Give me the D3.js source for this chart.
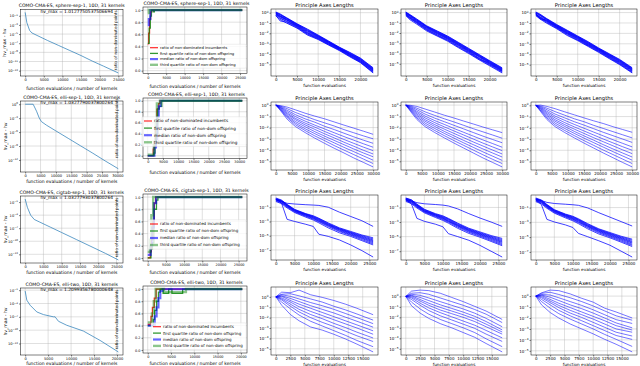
<!DOCTYPE html>
<html>
<head>
<meta charset="utf-8">
<title>COMO-CMA-ES runs</title>
<script src="https://d3js.org/d3.v7.min.js"></script>
<style>
body { margin: 0; background: #fff; }
svg { font-family: "DejaVu Sans", sans-serif; }
</style>
</head>
<body>
<script>
// ---- text ----
var runTitles = ["COMO-CMA-ES, sphere-sep-1, 10D, 31 kernels", "COMO-CMA-ES, elli-sep-1, 10D, 31 kernels",
                 "COMO-CMA-ES, cigtab-sep-1, 10D, 31 kernels", "COMO-CMA-ES, elli-two, 10D, 31 kernels"];
var hvMaxText = ["hv_max = 1.0127750537506694", "hv_max = 1.0327790037800264",
                 "hv_max = 1.0327793037800264", "hv_max = 1.2099356780000648"];
var ratioLabels = ["ratio of non-dominated incumbents", "first quartile ratio of non-dom offspring",
                   "median ratio of non-dom offspring", "third quartile ratio of non-dom offspring"];

// ---- ticks ----
var convTicksY = [[-1,-3,-5,-7,-9,-11,-13], [0,-3,-6,-9,-12], [-1,-4,-7,-10,-13], [-1,-4,-7,-10,-13]];
var evalTicksX = [[0,5000,10000,15000,20000,25000], [0,5000,10000,15000,20000,25000,30000],
                  [0,5000,10000,15000,20000,25000], [0,5000,10000,15000,20000]];
var ratioTicksY = [0, 0.2, 0.4, 0.6, 0.8, 1.0];
var axesTicksX = [[0,5000,10000,15000,20000], [0,5000,10000,15000,20000,25000,30000],
                  [0,5000,10000,15000,20000,25000], [0,2500,5000,7500,10000,12500,15000]];
var axesTicksY = [[0,-1,-2,-3,-4,-5], [0,-1,-2,-3,-4,-5], [-1,-3,-5,-7], [1,0,-1,-2,-3,-4,-5]];

// ---- column 1: log10(hv_max - hv) ----
var convX1 = [0, 450, 1200, 1800, 3200, 6000, 9000, 12000, 15000, 18000, 21000, 25000];
var convY1 = [-0.25, -2.5, -4.2, -4.75, -5.3, -6.4, -7.5, -8.6, -9.7, -10.9, -12.0, -13.5];
var convX2 = [0, 2600, 3700, 4600, 5300, 6900, 10000, 14000, 18000, 22000, 26000, 30300];
var convY2 = [0, 0, -1.5, -3.0, -3.75, -4.5, -5.75, -7.35, -8.95, -10.55, -12.2, -13.9];
var convX3 = [0, 600, 1500, 2500, 4000, 7000, 10000, 14000, 18000, 22000, 25500];
var convY3 = [-0.3, -2.2, -4.0, -5.0, -5.6, -6.8, -8.0, -9.6, -11.2, -12.8, -14.3];
var convX4 = [0, 360, 1090, 2540, 3990, 6160, 6520, 7250, 9060, 12680, 16300, 20290];
var convY4 = [-1.2, -3.25, -4.4, -5.9, -6.5, -7.0, -7.0, -8.0, -8.9, -10.2, -12.3, -14.9];

// ---- column 2: ratios of non-dominated points ----
var incR1 = [[0,0.43],[250,0.43],[250,0.62],[500,0.62],[500,0.85],[800,0.85],[800,0.97],[1100,0.97],[1100,1],[25600,1]];
var q1R1  = [[0,0.45],[400,0.45],[400,0.7],[700,0.7],[700,0.9],[1000,0.9],[1000,1],[1500,1],[1500,0.97],[1800,0.97],[1800,1],[25600,1]];
var medR1 = [[0,0.75],[300,0.75],[300,0.85],[700,0.85],[700,1],[25600,1]];
var q3R1  = [[0,0.95],[300,0.95],[300,1],[25600,1]];
var incR2 = [[0,0],[1800,0],[1800,0.12],[2100,0.12],[2100,0.25],[2500,0.25],[2500,0.5],[3000,0.5],[3000,0.85],[3600,0.85],[3600,0.95],[4000,0.95],[4000,1],[31000,1]];
var q1R2  = [[0,0],[2000,0],[2000,0.05],[2400,0.05],[2400,0.2],[2800,0.2],[2800,0.4],[3300,0.4],[3300,0.85],[3800,0.85],[3800,0.9],[4600,0.9],[4600,1],[31000,1]];
var medR2 = [[0,0],[2200,0],[2200,0.15],[2700,0.15],[2700,0.3],[3100,0.3],[3100,0.7],[3600,0.7],[3600,0.9],[4200,0.9],[4200,1],[31000,1]];
var q3R2  = [[0,0.02],[2000,0.02],[2000,0.25],[2600,0.25],[2600,0.6],[3000,0.6],[3000,0.95],[4000,0.95],[4000,1],[31000,1]];
var incR3 = [[0,0],[700,0],[700,0.1],[1000,0.1],[1000,0.3],[1400,0.3],[1400,0.6],[1800,0.6],[1800,0.9],[2200,0.9],[2200,1],[26000,1]];
var q1R3  = [[0,0],[900,0],[900,0.15],[1300,0.15],[1300,0.25],[1700,0.25],[1700,0.8],[2400,0.8],[2400,0.95],[2800,0.95],[2800,1],[26000,1]];
var medR3 = [[0,0.05],[800,0.05],[800,0.2],[1200,0.2],[1200,0.5],[1700,0.5],[1700,0.9],[2300,0.9],[2300,1],[26000,1]];
var q3R3  = [[0,0.1],[600,0.1],[600,0.3],[1000,0.3],[1000,0.7],[1500,0.7],[1500,1],[26000,1]];
var incR4 = [[0,0.42],[700,0.42],[700,0.55],[1000,0.55],[1000,0.7],[1400,0.7],[1400,0.85],[1800,0.85],[1800,1],[20300,1]];
var q1R4  = [[0,0.4],[1200,0.4],[1200,0.5],[1500,0.5],[1500,0.65],[1900,0.65],[1900,0.8],[2300,0.8],[2300,0.95],[2700,0.95],[2700,1],[3300,1],[3300,0.93],[4500,0.93],[4500,1],[5200,1],[5200,0.93],[7500,0.93],[7500,1],[20300,1]];
var medR4 = [[0,0.4],[1500,0.4],[1500,0.55],[1900,0.55],[1900,0.7],[2300,0.7],[2300,0.85],[2700,0.85],[2700,0.97],[3200,0.97],[3200,1],[20300,1]];
var q3R4  = [[0,0.45],[900,0.45],[900,0.6],[1300,0.6],[1300,0.8],[1700,0.8],[1700,1],[3500,1],[3500,0.95],[8200,0.95],[8200,1],[20300,1]];

// ---- columns 3-5: log10 of principal axes lengths, one list per axis ----
var axesX1 = [0, 1000, 2500, 5000, 7500, 10000, 12500, 15000, 17500, 20000, 23000];
var axesR1C1 = [
  [0.06,-0.12,-0.48,-1.07,-1.6,-2.17,-2.75,-3.34,-3.85,-4.4,-5.34],
  [0.03,-0.18,-0.52,-1.12,-1.66,-2.22,-2.8,-3.37,-3.9,-4.45,-5.4],
  [0.0,-0.22,-0.55,-1.15,-1.72,-2.26,-2.83,-3.4,-3.95,-4.5,-5.45],
  [-0.05,-0.3,-0.62,-1.2,-1.78,-2.3,-2.87,-3.44,-4.0,-4.55,-5.5],
  [-0.08,-0.35,-0.66,-1.24,-1.85,-2.35,-2.9,-3.47,-4.03,-4.6,-5.55],
  [-0.12,-0.4,-0.7,-1.28,-1.92,-2.4,-2.95,-3.5,-4.08,-4.65,-5.6],
  [-0.15,-0.48,-0.78,-1.33,-1.98,-2.45,-3.0,-3.54,-4.12,-4.7,-5.65],
  [-0.2,-0.55,-0.85,-1.38,-2.05,-2.5,-3.05,-3.58,-4.18,-4.75,-5.72],
  [-0.25,-0.8,-0.92,-1.44,-2.1,-2.55,-3.1,-3.62,-4.22,-4.8,-5.78],
  [-0.3,-0.65,-1.0,-1.5,-2.18,-2.6,-3.15,-3.67,-4.28,-4.84,-5.84]];
var axesR1C2 = [
  [0.05,-0.2,-0.6,-1.3,-1.8,-2.3,-2.9,-3.5,-4.1,-4.7,-5.4],
  [0.02,-0.25,-0.65,-1.35,-1.85,-2.35,-2.95,-3.55,-4.15,-4.75,-5.45],
  [0.0,-0.28,-0.7,-1.38,-1.9,-2.4,-3.0,-3.6,-4.2,-4.8,-5.5],
  [-0.04,-0.32,-0.74,-1.42,-1.95,-2.45,-3.05,-3.65,-4.25,-4.85,-5.55],
  [-0.08,-0.38,-0.8,-1.48,-2.0,-2.5,-3.1,-3.7,-4.3,-4.9,-5.6],
  [-0.12,-0.45,-0.85,-1.54,-2.05,-2.55,-3.15,-3.75,-4.35,-4.95,-5.65],
  [-0.16,-0.5,-0.9,-1.6,-2.1,-2.6,-3.2,-3.8,-4.45,-5.0,-5.7],
  [-0.2,-0.55,-0.95,-1.66,-2.18,-2.67,-3.28,-3.86,-4.5,-5.05,-5.75],
  [-0.25,-0.6,-1.0,-1.72,-2.25,-2.72,-3.35,-3.93,-4.55,-5.12,-5.82],
  [-0.3,-0.7,-1.1,-1.8,-2.3,-2.8,-3.42,-4.0,-4.62,-5.2,-5.9]];
var axesR1C3 = [
  [0.05,-0.15,-0.55,-1.15,-1.7,-2.25,-2.8,-3.4,-3.95,-4.5,-5.3],
  [0.02,-0.2,-0.6,-1.2,-1.75,-2.3,-2.85,-3.45,-4.0,-4.55,-5.35],
  [-0.02,-0.25,-0.62,-1.24,-1.8,-2.34,-2.9,-3.48,-4.05,-4.6,-5.4],
  [-0.05,-0.3,-0.68,-1.28,-1.84,-2.38,-2.95,-3.52,-4.1,-4.65,-5.45],
  [-0.1,-0.6,-0.72,-1.32,-1.9,-2.42,-3.0,-3.56,-4.14,-4.7,-5.5],
  [-0.12,-0.4,-0.76,-1.36,-1.95,-2.48,-3.05,-3.6,-4.2,-4.76,-5.55],
  [-0.16,-0.45,-0.8,-1.4,-2.0,-2.52,-3.1,-3.65,-4.25,-4.82,-5.6],
  [-0.2,-0.5,-0.86,-1.45,-2.05,-2.58,-3.15,-3.7,-4.3,-4.88,-5.68],
  [-0.24,-0.55,-0.92,-1.5,-2.12,-2.64,-3.2,-3.76,-4.36,-4.94,-5.74],
  [-0.3,-0.62,-1.0,-1.56,-2.2,-2.7,-3.26,-3.82,-4.42,-5.0,-5.8]];

var axesX2 = [0, 1500, 3500, 6000, 9000, 12000, 15000, 18000, 21000, 24000, 27000, 30000];
var axesR2C1 = [
  [0,-0.05,-0.18,-0.42,-0.72,-0.98,-1.22,-1.5,-1.78,-2.05,-2.32,-2.6],
  [0,-0.1,-0.32,-0.65,-0.98,-1.3,-1.58,-1.86,-2.18,-2.46,-2.74,-3.0],
  [0,-0.15,-0.46,-0.85,-1.22,-1.52,-1.88,-2.18,-2.5,-2.82,-3.12,-3.4],
  [0,-0.2,-0.58,-1.02,-1.42,-1.78,-2.12,-2.46,-2.8,-3.12,-3.44,-3.75],
  [0,-0.24,-0.7,-1.18,-1.6,-1.96,-2.34,-2.7,-3.06,-3.4,-3.74,-4.05],
  [0,-0.3,-0.8,-1.3,-1.76,-2.16,-2.55,-2.92,-3.3,-3.66,-4.02,-4.35],
  [0,-0.35,-0.92,-1.46,-1.92,-2.36,-2.76,-3.14,-3.52,-3.9,-4.26,-4.6],
  [0,-0.4,-1.02,-1.6,-2.1,-2.54,-2.96,-3.36,-3.76,-4.14,-4.52,-4.9],
  [0,-0.46,-1.12,-1.74,-2.26,-2.74,-3.16,-3.6,-4.0,-4.4,-4.8,-5.2],
  [0,-0.52,-1.26,-1.9,-2.44,-2.94,-3.4,-3.84,-4.26,-4.7,-5.1,-5.5]];
var axesR2C2 = [
  [0,-0.02,-0.12,-0.35,-0.62,-0.9,-1.15,-1.42,-1.68,-1.95,-2.2,-2.45],
  [0,-0.08,-0.28,-0.6,-0.92,-1.22,-1.5,-1.8,-2.1,-2.38,-2.66,-2.95],
  [0,-0.14,-0.42,-0.8,-1.16,-1.48,-1.8,-2.12,-2.44,-2.76,-3.06,-3.35],
  [0,-0.2,-0.56,-0.98,-1.38,-1.72,-2.08,-2.42,-2.76,-3.1,-3.42,-3.75],
  [0,-0.26,-0.68,-1.14,-1.56,-1.94,-2.3,-2.66,-3.02,-3.38,-3.72,-4.05],
  [0,-0.32,-0.8,-1.3,-1.74,-2.14,-2.52,-2.9,-3.28,-3.64,-4.0,-4.35],
  [0,-0.38,-0.92,-1.44,-1.9,-2.34,-2.74,-3.14,-3.52,-3.9,-4.26,-4.62],
  [0,-0.44,-1.04,-1.6,-2.08,-2.52,-2.94,-3.36,-3.76,-4.16,-4.54,-4.92],
  [0,-0.5,-1.16,-1.76,-2.26,-2.72,-3.16,-3.58,-4.0,-4.42,-4.82,-5.2],
  [0,-0.58,-1.3,-1.92,-2.44,-2.92,-3.38,-3.82,-4.26,-4.7,-5.1,-5.5]];
var axesR2C3 = [
  [0,0.02,-0.1,-0.3,-0.58,-0.85,-1.12,-1.38,-1.62,-1.9,-2.15,-2.4],
  [0,-0.06,-0.26,-0.56,-0.88,-1.2,-1.46,-1.78,-2.06,-2.34,-2.62,-2.9],
  [0,-0.12,-0.4,-0.78,-1.12,-1.46,-1.76,-2.08,-2.4,-2.7,-3.0,-3.3],
  [0,-0.18,-0.54,-0.96,-1.34,-1.7,-2.04,-2.38,-2.72,-3.06,-3.38,-3.7],
  [0,-0.24,-0.66,-1.12,-1.54,-1.92,-2.28,-2.64,-3.0,-3.34,-3.68,-4.0],
  [0,-0.3,-0.78,-1.28,-1.72,-2.12,-2.5,-2.88,-3.24,-3.6,-3.96,-4.3],
  [0,-0.36,-0.9,-1.42,-1.88,-2.32,-2.72,-3.1,-3.5,-3.88,-4.24,-4.6],
  [0,-0.42,-1.02,-1.58,-2.06,-2.5,-2.92,-3.32,-3.72,-4.12,-4.5,-4.88],
  [0,-0.48,-1.14,-1.74,-2.24,-2.7,-3.14,-3.56,-3.98,-4.38,-4.78,-5.18],
  [0,-0.56,-1.28,-1.9,-2.42,-2.9,-3.36,-3.8,-4.24,-4.66,-5.08,-5.48]];

var axesX3 = [0, 1500, 3000, 5000, 8000, 10000, 11500, 14000, 17000, 20000, 23000, 26000];
var axesR3C1 = [
  [0.3,0.0,-0.6,-1.3,-1.9,-2.2,-2.55,-3.2,-3.9,-4.4,-4.9,-5.3],
  [0.2,-0.05,-0.65,-1.35,-1.95,-2.28,-2.62,-3.3,-3.98,-4.5,-5.0,-5.45],
  [0.15,-0.1,-0.7,-1.4,-2.0,-2.35,-2.7,-3.38,-4.05,-4.58,-5.1,-5.6],
  [0.1,-0.15,-0.76,-1.46,-2.06,-2.42,-2.78,-3.45,-4.12,-4.65,-5.2,-5.72],
  [0.05,-0.22,-0.82,-1.52,-2.12,-2.5,-2.86,-3.52,-4.2,-4.75,-5.3,-5.85],
  [0.0,-0.3,-0.9,-1.58,-2.2,-2.58,-2.95,-3.6,-4.3,-4.85,-5.4,-6.0],
  [-0.1,-0.38,-0.98,-1.66,-2.28,-2.68,-3.05,-3.72,-4.42,-4.95,-5.55,-6.15],
  [-0.2,-0.5,-1.1,-1.75,-2.4,-2.8,-3.2,-3.9,-4.6,-5.1,-5.7,-6.3],
  [0.1,-0.2,-0.45,-0.55,-0.65,-0.7,-0.75,-1.0,-1.7,-2.3,-2.9,-3.7],
  [0.1,-0.4,-2.7,-3.0,-3.4,-3.7,-4.8,-5.1,-5.6,-6.3,-7.1,-8.0]];
var axesR3C2 = [
  [0.3,0.05,-0.55,-1.25,-1.85,-2.15,-2.5,-3.15,-3.85,-4.35,-4.85,-5.25],
  [0.25,0.0,-0.6,-1.3,-1.92,-2.24,-2.58,-3.25,-3.94,-4.46,-4.96,-5.4],
  [0.2,-0.08,-0.68,-1.38,-1.98,-2.32,-2.66,-3.34,-4.02,-4.55,-5.06,-5.55],
  [0.12,-0.14,-0.74,-1.44,-2.04,-2.4,-2.75,-3.42,-4.1,-4.64,-5.16,-5.68],
  [0.05,-0.2,-0.8,-1.5,-2.1,-2.48,-2.84,-3.5,-4.18,-4.72,-5.26,-5.8],
  [0.0,-0.28,-0.88,-1.56,-2.18,-2.56,-2.92,-3.58,-4.28,-4.82,-5.38,-5.95],
  [-0.08,-0.36,-0.96,-1.64,-2.26,-2.66,-3.02,-3.7,-4.4,-4.94,-5.52,-6.1],
  [-0.18,-0.48,-1.08,-1.74,-2.38,-2.78,-3.16,-3.86,-4.56,-5.08,-5.66,-6.25],
  [0.1,-0.1,-0.35,-0.5,-0.6,-0.68,-0.8,-1.2,-1.85,-2.45,-3.0,-3.6],
  [0.1,-0.5,-2.5,-2.9,-3.3,-3.65,-4.6,-5.0,-5.5,-6.2,-7.0,-7.8]];
var axesR3C3 = [
  [0.3,0.02,-0.58,-1.28,-1.88,-2.18,-2.52,-3.18,-3.88,-4.38,-4.88,-5.28],
  [0.22,-0.04,-0.64,-1.34,-1.94,-2.26,-2.6,-3.28,-3.96,-4.48,-4.98,-5.42],
  [0.16,-0.1,-0.7,-1.4,-2.0,-2.34,-2.68,-3.36,-4.04,-4.56,-5.08,-5.58],
  [0.1,-0.16,-0.76,-1.46,-2.06,-2.42,-2.76,-3.44,-4.12,-4.64,-5.18,-5.7],
  [0.04,-0.22,-0.82,-1.52,-2.12,-2.5,-2.84,-3.52,-4.2,-4.74,-5.28,-5.82],
  [-0.02,-0.3,-0.9,-1.58,-2.2,-2.58,-2.94,-3.6,-4.3,-4.84,-5.4,-5.98],
  [-0.1,-0.38,-0.98,-1.66,-2.28,-2.68,-3.04,-3.72,-4.42,-4.96,-5.54,-6.12],
  [-0.2,-0.5,-1.1,-1.76,-2.4,-2.8,-3.18,-3.88,-4.58,-5.1,-5.68,-6.28],
  [0.15,-0.05,-0.3,-0.45,-0.55,-0.62,-0.7,-1.05,-1.7,-2.3,-2.9,-3.5],
  [0.1,-0.6,-2.6,-2.95,-3.35,-3.7,-4.5,-4.95,-5.5,-6.1,-6.9,-7.7]];

var axesX4 = [0, 1000, 2500, 4000, 6000, 8000, 10000, 12000, 14000, 16800];
var axesR4C1 = [
  [0,0.45,0.4,0.65,0.2,-0.05,-0.35,-0.7,-1.1,-1.72],
  [0,0.25,0.3,0.1,-0.2,-0.5,-0.9,-1.25,-1.65,-2.24],
  [0,0.2,0.05,-0.2,-0.55,-0.85,-1.2,-1.6,-2.0,-2.58],
  [0,0.1,-0.15,-0.45,-0.85,-1.2,-1.55,-1.95,-2.35,-2.92],
  [0,0.05,-0.35,-0.7,-1.1,-1.5,-1.9,-2.3,-2.7,-3.27],
  [0,-0.1,-0.5,-0.95,-1.4,-1.8,-2.2,-2.6,-3.0,-3.6],
  [0,-0.2,-0.7,-1.2,-1.7,-2.1,-2.55,-2.95,-3.4,-3.96],
  [0,-0.3,-0.9,-1.45,-2.0,-2.45,-2.85,-3.3,-3.75,-4.3],
  [0,-0.5,-1.15,-1.75,-2.35,-2.8,-3.25,-3.7,-4.2,-4.8],
  [0,-0.8,-1.7,-2.3,-2.9,-3.2,-3.6,-4.05,-4.55,-5.3]];
var axesR4C2 = [
  [0,0.5,0.6,0.55,0.3,-0.1,-0.5,-0.95,-1.4,-2.2],
  [0,0.3,0.35,0.2,-0.15,-0.5,-0.85,-1.25,-1.7,-2.5],
  [0,0.2,0.1,-0.15,-0.5,-0.85,-1.2,-1.6,-2.1,-2.9],
  [0,0.1,-0.1,-0.4,-0.8,-1.15,-1.5,-1.9,-2.4,-3.2],
  [0,0.05,-0.3,-0.65,-1.05,-1.4,-1.75,-2.15,-2.65,-3.4],
  [0,-0.05,-0.45,-0.85,-1.3,-1.65,-2.0,-2.4,-2.9,-3.6],
  [0,-0.15,-0.65,-1.1,-1.55,-1.95,-2.35,-2.75,-3.25,-3.96],
  [0,-0.3,-0.85,-1.35,-1.85,-2.25,-2.65,-3.05,-3.6,-4.3],
  [0,-0.55,-1.2,-1.7,-2.2,-2.6,-3.0,-3.45,-4.05,-4.8],
  [0,-0.9,-1.6,-2.1,-2.6,-3.0,-3.45,-3.9,-4.5,-5.3]];
var axesR4C3 = [
  [0,0.3,0.55,0.5,0.2,-0.2,-0.55,-1.1,-1.45,-2.0],
  [0,0.25,0.35,0.15,-0.15,-0.5,-0.9,-1.35,-1.8,-2.2],
  [0,0.15,0.1,-0.15,-0.5,-0.85,-1.25,-1.7,-2.15,-2.5],
  [0,0.1,-0.1,-0.4,-0.8,-1.15,-1.55,-2.0,-2.45,-2.9],
  [0,0.05,-0.3,-0.65,-1.05,-1.45,-1.85,-2.25,-2.7,-3.1],
  [0,-0.05,-0.45,-0.85,-1.3,-1.7,-2.1,-2.55,-3.0,-3.3],
  [0,-0.15,-0.6,-1.05,-1.55,-1.95,-2.4,-2.85,-3.3,-3.65],
  [0,-0.3,-0.8,-1.3,-1.8,-2.25,-2.7,-3.15,-3.6,-3.96],
  [0,-0.5,-1.1,-1.6,-2.1,-2.55,-3.0,-3.5,-3.95,-4.6],
  [0,-0.8,-1.5,-2.0,-2.55,-3.0,-3.45,-3.95,-4.4,-5.1]];

// ---- group per row ----
var convX = [convX1, convX2, convX3, convX4];
var convY = [convY1, convY2, convY3, convY4];
var ratioRows = [[incR1, q1R1, medR1, q3R1], [incR2, q1R2, medR2, q3R2],
                 [incR3, q1R3, medR3, q3R3], [incR4, q1R4, medR4, q3R4]];
var axesX = [axesX1, axesX2, axesX3, axesX4];
var axesRows = [[axesR1C1, axesR1C2, axesR1C3], [axesR2C1, axesR2C2, axesR2C3],
                [axesR3C1, axesR3C2, axesR3C3], [axesR4C1, axesR4C2, axesR4C3]];

// ---- layout ----
var colX = [[20.5, 123], [143, 247], [271, 378], [401, 507], [531, 637]];
var frameC1 = [[9.3, 76], [101, 172], [196, 263], [288, 355]];
var frameC2 = [[7, 73.7], [98, 158.5], [194, 261], [286, 353]];
var frameAx = [[9, 76], [102, 170], [195, 260], [287, 355]];
var c1XlabelDy = [14, 11, 11, 9.5];
var c2XlabelDy = [13.8, 15.3, 12.5, 12];
var legendPos = [{x: 150, y: 47.7, dy: 5.7, fs: 3.8}, {x: 144, y: 121, dy: 7.1, fs: 4.2},
                 {x: 150, y: 224, dy: 7, fs: 4.0}, {x: 153, y: 326.7, dy: 6.4, fs: 4.0}];
var ratioColor = ["#ff0000", "#008000", "#0000ff", "#008000"];
var ratioWidth = [1.2, 1.3, 2.2, 2.4];
var ratioAlpha = [0.85, 0.8, 0.6, 0.45];
var axesLineWidth = [0.8, 0.55, 0.75, 0.55];

var svg = d3.select("body").append("svg").attr("width", 640).attr("height", 366);

function pad(ext) { var m = (ext[1] - ext[0]) * 0.05; return [ext[0] - m, ext[1] + m]; }

function supLabels(sel, fs) {
  sel.each(function(d) {
    var t = d3.select(this).text(null);
    t.append("tspan").text("10");
    t.append("tspan").attr("dy", -fs * 0.45).attr("font-size", fs * 0.72)
      .text(d < 0 ? "\u2212" + (-d) : d);
  });
}

function panel(box, xDom, yDom, xTicks, yTicks, fs, logY) {
  var x = d3.scaleLinear().domain(xDom).range([box[0], box[1]]);
  var y = d3.scaleLinear().domain(yDom).range([box[3], box[2]]);
  yTicks = yTicks.filter(function(v) { return v >= yDom[0] && v <= yDom[1]; });
  var g = svg.append("g");
  g.append("g").selectAll("line").data(xTicks).join("line")
    .attr("x1", d => x(d)).attr("x2", d => x(d)).attr("y1", box[2]).attr("y2", box[3])
    .attr("stroke", "#b0b0b0").attr("stroke-width", 0.4);
  g.append("g").selectAll("line").data(yTicks).join("line")
    .attr("y1", d => y(d)).attr("y2", d => y(d)).attr("x1", box[0]).attr("x2", box[1])
    .attr("stroke", "#b0b0b0").attr("stroke-width", 0.4);
  var plot = g.append("g");
  var xa = g.append("g").attr("transform", "translate(0," + box[3] + ")")
    .call(d3.axisBottom(x).tickValues(xTicks).tickSize(1.5).tickPadding(1).tickFormat(d3.format("d")));
  var ya = g.append("g").attr("transform", "translate(" + box[0] + ",0)")
    .call(d3.axisLeft(y).tickValues(yTicks).tickSize(1.5).tickPadding(1).tickFormat(d3.format(".1f")));
  [xa, ya].forEach(function(a) {
    a.attr("font-size", fs).attr("font-family", null);
    a.select(".domain").remove();
    a.selectAll(".tick line").attr("stroke-width", 0.5);
  });
  if (logY) supLabels(ya.selectAll(".tick text"), fs);
  g.append("rect").attr("x", box[0]).attr("y", box[2])
    .attr("width", box[1] - box[0]).attr("height", box[3] - box[2])
    .attr("fill", "none").attr("stroke", "#000").attr("stroke-width", 0.5);
  return {x: x, y: y, plot: plot};
}

function label(txt, x, y, fs, rot) {
  var t = svg.append("text").attr("x", x).attr("y", y).attr("font-size", fs)
    .attr("text-anchor", "middle").text(txt);
  if (rot) t.attr("transform", "rotate(-90," + x + "," + y + ")");
  return t;
}

for (var r = 0; r < 4; r++) {
  // column 1: convergence of the hypervolume
  var b1 = [colX[0][0], colX[0][1], frameC1[r][0], frameC1[r][1]];
  var p1 = panel(b1, pad(d3.extent(convX[r])), pad(d3.extent(convY[r])), evalTicksX[r], convTicksY[r], 3.6, true);
  var pts = convX[r].map(function(v, i) { return [v, convY[r][i]]; });
  p1.plot.append("path").datum(pts).attr("fill", "none").attr("stroke", "#1f77b4").attr("stroke-width", 0.7)
    .attr("d", d3.line().x(d => p1.x(d[0])).y(d => p1.y(d[1])));
  var cx1 = (b1[0] + b1[1]) / 2;
  label(runTitles[r], cx1, b1[2] - 2.3, 4.6);
  label(hvMaxText[r], cx1 + 5, b1[2] + 3.2, 4.4);
  label("hv_max - hv", 6.5, (b1[2] + b1[3]) / 2, 4.6, true);
  label("function evaluations / number of kernels", cx1, b1[3] + c1XlabelDy[r], 4.5);

  // column 2: ratio of non-dominated points
  var b2 = [colX[1][0], colX[1][1], frameC2[r][0], frameC2[r][1]];
  var allX = [].concat.apply([], ratioRows[r].map(s => s.map(d => d[0])));
  var p2 = panel(b2, pad(d3.extent(allX)), [-0.05, 1.05], evalTicksX[r], ratioTicksY, 3.4, false);
  ratioRows[r].forEach(function(s, k) {
    p2.plot.append("path").datum(s).attr("fill", "none").attr("stroke", ratioColor[k])
      .attr("stroke-width", ratioWidth[k]).attr("stroke-opacity", ratioAlpha[k])
      .attr("d", d3.line().x(d => p2.x(d[0])).y(d => p2.y(d[1])));
  });
  var lg = legendPos[r];
  svg.append("rect").attr("x", lg.x - 2).attr("y", lg.y - lg.dy * 0.6)
    .attr("width", b2[1] - 0.8 - (lg.x - 2)).attr("height", lg.dy * 4.2)
    .attr("rx", 1).attr("fill", "#fff").attr("fill-opacity", 0.8)
    .attr("stroke", "#d6d6d6").attr("stroke-width", 0.4);
  ratioLabels.forEach(function(txt, k) {
    var yy = lg.y + k * lg.dy;
    svg.append("line").attr("x1", lg.x).attr("x2", lg.x + 8).attr("y1", yy).attr("y2", yy)
      .attr("stroke", ratioColor[k]).attr("stroke-width", ratioWidth[k]).attr("stroke-opacity", ratioAlpha[k]);
    svg.append("text").attr("x", lg.x + 10).attr("y", yy).attr("dy", "0.35em")
      .attr("font-size", lg.fs).text(txt);
  });
  var cx2 = (b2[0] + b2[1]) / 2;
  label(runTitles[r], cx2 + 1.5, b2[2] - 2.3, 4.6);
  label("ratio of non-dominated points", 117.5, (b2[2] + b2[3]) / 2, 4.0, true);
  label("function evaluations / number of kernels", cx2, b2[3] + c2XlabelDy[r], 4.5);

  // columns 3-5: principal axes lengths
  for (var c = 0; c < 3; c++) {
    var bx = [colX[c + 2][0], colX[c + 2][1], frameAx[r][0], frameAx[r][1]];
    var lines = axesRows[r][c];
    var allY = [].concat.apply([], lines);
    var p = panel(bx, pad(d3.extent(axesX[r])), pad(d3.extent(allY)), axesTicksX[r], axesTicksY[r], 4.0, true);
    var xs = axesX[r];
    lines.forEach(function(vals) {
      p.plot.append("path").datum(vals.map(function(v, i) { return [xs[i], v]; }))
        .attr("fill", "none").attr("stroke", "#0000ff").attr("stroke-width", axesLineWidth[r])
        .attr("d", d3.line().x(d => p.x(d[0])).y(d => p.y(d[1])));
    });
    var cx = (bx[0] + bx[1]) / 2;
    label("Principle Axes Lengths", cx, bx[2] - 2.5, 5.2);
    label("function evaluations", cx, bx[3] + 10.5, 4.2);
  }
}
</script>
</body>
</html>
